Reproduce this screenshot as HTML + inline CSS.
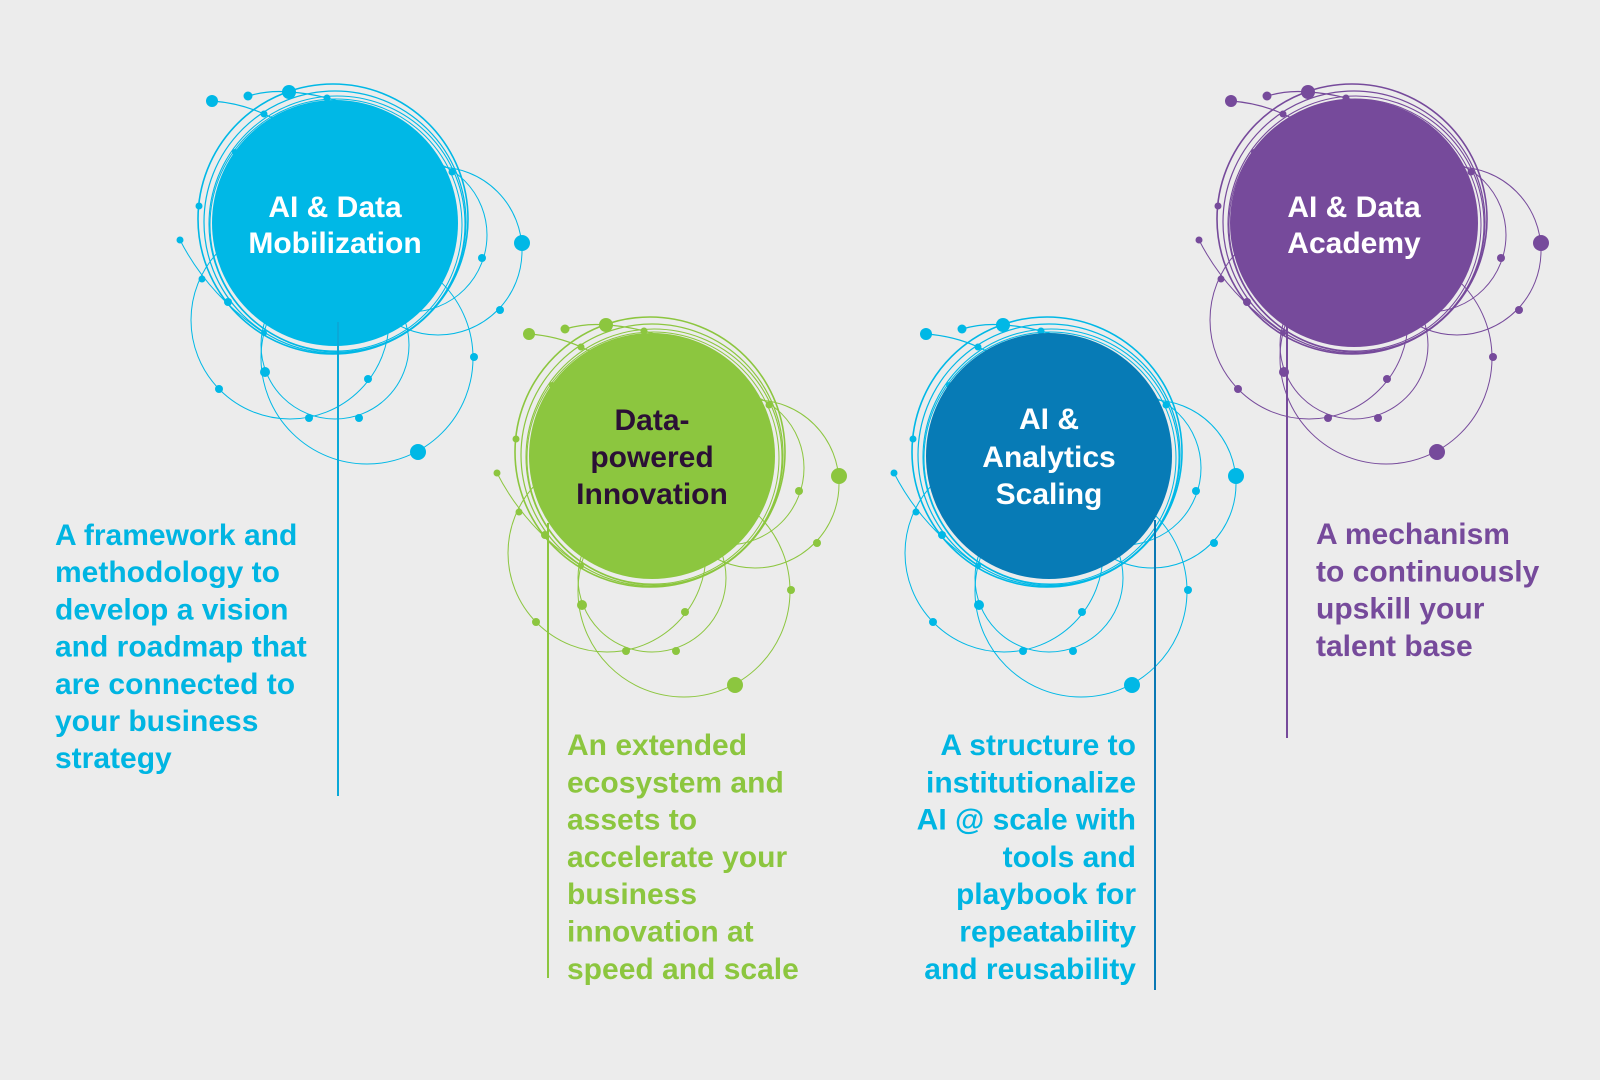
<!DOCTYPE html>
<html>
<head>
<meta charset="utf-8">
<style>
  html, body { margin: 0; padding: 0; background: #ececec; }
  body { width: 1600px; height: 1080px; overflow: hidden; }
  svg { display: block; }
  .t { font-family: "Liberation Sans", Arial, sans-serif; font-weight: bold; font-size: 30px; }
  .c { text-anchor: middle; }
  .e { text-anchor: end; }
</style>
</head>
<body>
<svg width="1600" height="1080" viewBox="0 0 1600 1080" xmlns="http://www.w3.org/2000/svg">
  <rect x="0" y="0" width="1600" height="1080" fill="#ececec"/>
  <defs>
    <g id="deco">
      <g fill="none" stroke="currentColor">
        <circle cx="-2" cy="-4" r="135" stroke-width="1.6"/>
        <circle cx="0" cy="-1" r="131" stroke-width="1.2"/>
        <circle cx="2" cy="1" r="128" stroke-width="1.1"/>
        <circle cx="1" cy="2" r="126" stroke-width="1"/>
        <circle cx="103" cy="28" r="84" stroke-width="1"/>
        <circle cx="75" cy="12" r="77" stroke-width="1"/>
        <circle cx="-45" cy="97" r="99" stroke-width="1"/>
        <circle cx="0" cy="122" r="74" stroke-width="1"/>
        <circle cx="32" cy="135" r="106" stroke-width="1"/>
        <path d="M-123 -122 Q-95 -120 -71 -109 T-30 -88" stroke-width="1.2"/>
        <path d="M-87 -127 Q-66 -133 -46 -131 Q-27 -130 -8 -125 L10 -120" stroke-width="1.2"/>
        <path d="M-155 17 Q-127 72 -71 110" stroke-width="1"/>
      </g>
      <g fill="currentColor">
        <circle cx="-123" cy="-122" r="6"/>
        <circle cx="-87" cy="-127" r="4.5"/>
        <circle cx="-46" cy="-131" r="7"/>
        <circle cx="-8" cy="-125" r="3.5"/>
        <circle cx="-71" cy="-109" r="3.5"/>
        <circle cx="-100" cy="-71" r="3"/>
        <circle cx="-136" cy="-17" r="3.5"/>
        <circle cx="-155" cy="17" r="3.5"/>
        <circle cx="-133" cy="56" r="3.5"/>
        <circle cx="-107" cy="79" r="4"/>
        <circle cx="-71" cy="110" r="3"/>
        <circle cx="-70" cy="149" r="5"/>
        <circle cx="-116" cy="166" r="4"/>
        <circle cx="-26" cy="195" r="4"/>
        <circle cx="24" cy="195" r="4"/>
        <circle cx="33" cy="156" r="4"/>
        <circle cx="83" cy="229" r="8"/>
        <circle cx="139" cy="134" r="4"/>
        <circle cx="165" cy="87" r="4"/>
        <circle cx="187" cy="20" r="8"/>
        <circle cx="147" cy="35" r="4"/>
        <circle cx="117" cy="-51" r="3.5"/>
      </g>
    </g>
  </defs>

  <!-- Group 1: AI & Data Mobilization -->
  <use href="#deco" transform="translate(335,223)" style="color:#00b8e6"/>
  <circle cx="335" cy="223" r="123" fill="#00b8e6"/>
  <line x1="338" y1="322" x2="338" y2="796" stroke="#0aa9d8" stroke-width="2"/>
  <text class="t c" fill="#ffffff" x="335" y="217">AI &amp; Data</text>
  <text class="t c" fill="#ffffff" x="335" y="253">Mobilization</text>

  <!-- Group 2: Data-powered Innovation -->
  <use href="#deco" transform="translate(652,456)" style="color:#8cc63f"/>
  <circle cx="652" cy="456" r="123" fill="#8cc63f"/>
  <line x1="548" y1="523" x2="548" y2="978" stroke="#8cc63f" stroke-width="2"/>
  <text class="t c" fill="#2b1035" x="652" y="430">Data-</text>
  <text class="t c" fill="#2b1035" x="652" y="467">powered</text>
  <text class="t c" fill="#2b1035" x="652" y="504">Innovation</text>

  <!-- Group 3: AI & Analytics Scaling -->
  <use href="#deco" transform="translate(1049,456)" style="color:#00b8e6"/>
  <circle cx="1049" cy="456" r="123" fill="#077bb6"/>
  <line x1="1155" y1="520" x2="1155" y2="990" stroke="#0a78b4" stroke-width="2"/>
  <text class="t c" fill="#ffffff" x="1049" y="429">AI &amp;</text>
  <text class="t c" fill="#ffffff" x="1049" y="467">Analytics</text>
  <text class="t c" fill="#ffffff" x="1049" y="504">Scaling</text>

  <!-- Group 4: AI & Data Academy -->
  <use href="#deco" transform="translate(1354,223)" style="color:#764a9b"/>
  <circle cx="1354" cy="223" r="124" fill="#764a9b"/>
  <line x1="1287" y1="323" x2="1287" y2="738" stroke="#764a9b" stroke-width="2"/>
  <text class="t c" fill="#ffffff" x="1354" y="217">AI &amp; Data</text>
  <text class="t c" fill="#ffffff" x="1354" y="253">Academy</text>

  <!-- Description 1 -->
  <g class="t" fill="#00b5e2">
    <text class="t" x="55" y="545">A framework and</text>
    <text class="t" x="55" y="582.2">methodology to</text>
    <text class="t" x="55" y="619.4">develop a vision</text>
    <text class="t" x="55" y="656.6">and roadmap that</text>
    <text class="t" x="55" y="693.8">are connected to</text>
    <text class="t" x="55" y="731">your business</text>
    <text class="t" x="55" y="768.2">strategy</text>
  </g>

  <!-- Description 2 -->
  <g fill="#8cc63f">
    <text class="t" x="567" y="755">An extended</text>
    <text class="t" x="567" y="792.3">ecosystem and</text>
    <text class="t" x="567" y="829.6">assets to</text>
    <text class="t" x="567" y="866.9">accelerate your</text>
    <text class="t" x="567" y="904.2">business</text>
    <text class="t" x="567" y="941.5">innovation at</text>
    <text class="t" x="567" y="978.8">speed and scale</text>
  </g>

  <!-- Description 3 (right aligned) -->
  <g fill="#00b5e2">
    <text class="t e" x="1136" y="755">A structure to</text>
    <text class="t e" x="1136" y="792.3">institutionalize</text>
    <text class="t e" x="1136" y="829.6">AI @ scale with</text>
    <text class="t e" x="1136" y="866.9">tools and</text>
    <text class="t e" x="1136" y="904.2">playbook for</text>
    <text class="t e" x="1136" y="941.5">repeatability</text>
    <text class="t e" x="1136" y="978.8">and reusability</text>
  </g>

  <!-- Description 4 -->
  <g fill="#764a9b">
    <text class="t" x="1316" y="544">A mechanism</text>
    <text class="t" x="1316" y="581.3">to continuously</text>
    <text class="t" x="1316" y="618.6">upskill your</text>
    <text class="t" x="1316" y="655.9">talent base</text>
  </g>
</svg>
</body>
</html>
